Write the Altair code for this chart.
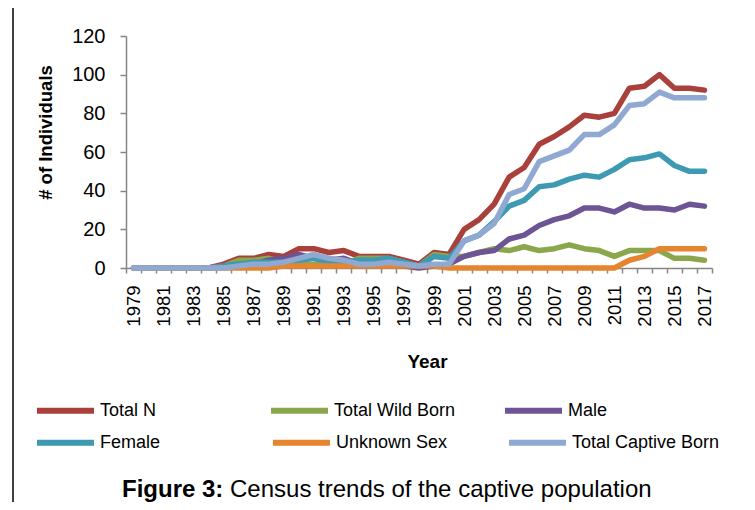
import altair as alt
import pandas as pd

years = list(range(1979, 2018))

total_n = [0, 0, 0, 0, 0, 0, 2, 5, 5, 7, 6, 10, 10, 8, 9, 6, 6, 6, 4, 2, 8, 7,
           20, 25, 33, 47, 52, 64, 68, 73, 79, 78, 80, 93, 94, 100, 93, 93, 92]
total_wild = [0, 0, 0, 0, 0, 0, 1, 4, 4, 5, 3, 2, 2, 2, 2, 5, 5, 5, 3, 1, 7, 6,
              6, 8, 10, 9, 11, 9, 10, 12, 10, 9, 6, 9, 9, 9, 5, 5, 4]
male = [0, 0, 0, 0, 0, 0, 1, 2, 2, 4, 5, 7, 5, 4, 5, 2, 2, 2, 1, 0, 1, 2,
        6, 8, 9, 15, 17, 22, 25, 27, 31, 31, 29, 33, 31, 31, 30, 33, 32]
female = [0, 0, 0, 0, 0, 0, 1, 2, 3, 3, 3, 4, 5, 3, 3, 4, 4, 5, 3, 1, 6, 5,
          14, 17, 24, 32, 35, 42, 43, 46, 48, 47, 51, 56, 57, 59, 53, 50, 50]
unknown_sex = [0, 0, 0, 0, 0, 0, 0, 0, 0, 0, 1, 1, 1, 1, 1, 1, 1, 1, 1, 1, 1, 0,
               0, 0, 0, 0, 0, 0, 0, 0, 0, 0, 0, 4, 6, 10, 10, 10, 10]
total_captive = [0, 0, 0, 0, 0, 0, 0, 1, 2, 2, 3, 5, 7, 5, 4, 2, 2, 3, 2, 1, 2, 2,
                 14, 17, 23, 38, 41, 55, 58, 61, 69, 69, 74, 84, 85, 91, 88, 88, 88]

series_names = ["Total N", "Total Wild Born", "Male", "Female", "Unknown Sex", "Total Captive Born"]
series_values = [total_n, total_wild, male, female, unknown_sex, total_captive]
series_colors = ["#A9403C", "#8AA84B", "#6D5494", "#3D9AB2", "#E5852F", "#90A9D2"]

# first legend row (color channel) and second legend row (stroke channel)
row1_names, row1_colors = series_names[:3], series_colors[:3]
row2_names, row2_colors = series_names[3:], series_colors[3:]

rows = []
for name, vals in zip(series_names, series_values):
    for yr, v in zip(years, vals):
        rows.append({"year": yr, "value": v, "series": name})
df = pd.DataFrame(rows)

FONT = "Liberation Sans"

tick_vals = [years[0] - 0.5 + i for i in range(len(years) + 1)]

x_enc = alt.X(
    "year:Q",
    scale=alt.Scale(domain=[years[0] - 0.5, years[-1] + 0.5], nice=False, zero=False),
    axis=alt.Axis(
        values=tick_vals,
        labelExpr="((datum.value + 0.5) % 2 == 1 && datum.value < 2017) ? format(datum.value + 0.5, 'd') : ''",
        labelOffset=7.5,
        labelAngle=270,
        labelAlign="right",
        labelBaseline="middle",
        labelPadding=12,
        labelFontSize=18.5,
        labelOverlap=False,
        labelFlush=False,
        tickSize=5,
        grid=False,
        title="Year",
        titleX=301,
        titleY=93,
        titleAlign="center",
        titleBaseline="middle",
        titleFontSize=19,
        titleFontWeight="bold",
    ),
)

y_enc = alt.Y(
    "value:Q",
    scale=alt.Scale(domain=[0, 120], nice=False),
    axis=alt.Axis(
        values=[0, 20, 40, 60, 80, 100, 120],
        title="# of Individuals",
        titleX=-81,
        titleY=96,
        titleAngle=270,
        titleAlign="center",
        titleBaseline="middle",
        titleFontSize=18.5,
        titleFontWeight="bold",
        labelFontSize=20,
        labelPadding=15,
        tickSize=6,
        grid=False,
    ),
)

legend_common = dict(
    orient="none",
    direction="horizontal",
    columns=3,
    title=None,
    symbolType="stroke",
    symbolSize=3249,
    symbolStrokeWidth=6,
    labelFontSize=18,
    labelOffset=3,
    labelLimit=400,
    gridAlign="all",
)

color_enc = alt.Color(
    "series:N",
    scale=alt.Scale(domain=row1_names, range=row1_colors),
    legend=alt.Legend(legendX=-92, legendY=343, columnPadding=37, **legend_common),
)
stroke_enc = alt.Stroke(
    "series:N",
    scale=alt.Scale(domain=row2_names, range=row2_colors),
    legend=alt.Legend(legendX=-92, legendY=375, columnPadding=13, **legend_common),
)

layers = []
for name in series_names:
    base = (
        alt.Chart(df)
        .transform_filter(alt.datum.series == name)
        .mark_line(strokeWidth=5.5, strokeJoin="round", strokeCap="round")
    )
    if name in row1_names:
        layers.append(base.encode(x=x_enc, y=y_enc, color=color_enc))
    else:
        layers.append(base.encode(x=x_enc, y=y_enc, stroke=stroke_enc))

cap_bold = alt.Chart(pd.DataFrame({"t": ["Figure 3:"]})).mark_text(
    align="left", baseline="middle", fontSize=24, fontWeight="bold", font=FONT, color="#000"
).encode(x=alt.value(-4), y=alt.value(454), text="t:N")

cap_rest = alt.Chart(pd.DataFrame({"t": ["Census trends of the captive population"]})).mark_text(
    align="left", baseline="middle", fontSize=24, font=FONT, color="#000"
).encode(x=alt.value(104), y=alt.value(454), text="t:N")

frame_left = alt.Chart(pd.DataFrame({"a": [0]})).mark_rule(color="#000", strokeWidth=1.5).encode(
    x=alt.value(-113), y=alt.value(-28), y2=alt.value(480)
)

chart = (
    alt.layer(*layers, cap_bold, cap_rest, frame_left)
    .properties(
        width=586,
        height=232,
        autosize=alt.AutoSizeParams(type="none"),
        padding={"left": 118, "top": 28, "right": 35, "bottom": 234},
    )
    .configure_view(stroke=None)
    .configure_axis(
        labelFont=FONT,
        titleFont=FONT,
        labelColor="#000",
        titleColor="#000",
        domainColor="#868686",
        tickColor="#868686",
        domainWidth=1.5,
        tickWidth=1.5,
    )
    .configure_legend(labelFont=FONT, labelColor="#000")
)

chart.save("out.html", embed_options={"renderer": "svg", "actions": False})
